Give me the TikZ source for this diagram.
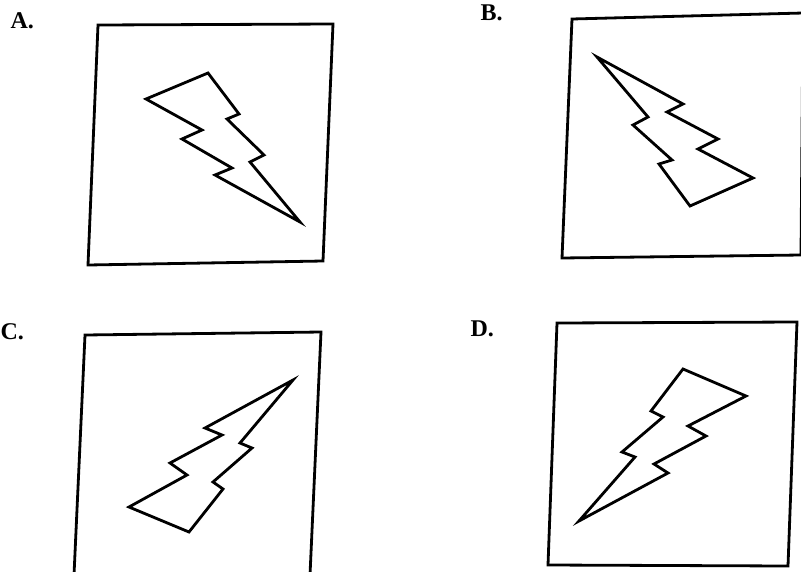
\documentclass[tikz,border=0pt]{standalone}
\usepackage{fontspec}
\setmainfont{Liberation Serif}
\usepackage{tikz}
\usetikzlibrary{positioning}

\begin{document}
\begin{tikzpicture}[
  x=1pt, y=-1pt,
  frame/.style = {draw, line width=2.8pt, line join=miter},
  bolt/.style  = {draw, line width=2.8pt, line join=miter},
  tag/.style   = {font=\fontsize{24}{26}\selectfont\bfseries, anchor=west}
]
\useasboundingbox (0,0) rectangle (801,571);

% Panel A
\node[tag] (labA) at (7,21) {A.};
\draw[frame] (98,25) -- (333,24) -- (323,261) -- (88,265) -- cycle;
\draw[bolt] (146,99) -- (208,73) -- (239,114) -- (227,119) -- (264,155)
  -- (250,162) -- (300,222) -- (215,175) -- (232,168) -- (182,139)
  -- (202,130) -- cycle;

% Panel B
\node[tag] (labB) at (477,13) {B.};
\draw[frame] (572,19) -- (803,13) -- (801,255) -- (562,258) -- cycle;
\draw[bolt] (597,57) -- (683,104) -- (667,112) -- (718,139) -- (698,149)
  -- (753,178) -- (690,206) -- (659,164) -- (672,160) -- (633,125)
  -- (648,117) -- cycle;

% Panel C
\node[tag] (labC) at (-3,332) {C.};
\draw[frame] (85,335) -- (321,332) -- (310,575) -- (74,575) -- cycle;
\draw[bolt] (293,380) -- (240,443) -- (252,448) -- (213,482) -- (223,489)
  -- (189,532) -- (129,507) -- (187,475) -- (170,463) -- (222,435)
  -- (205,428) -- cycle;

% Panel D
\node[tag] (labD) at (467,329) {D.};
\draw[frame] (557,323) -- (797,322) -- (788,566) -- (548,565) -- cycle;
\draw[bolt] (683,369) -- (746,396) -- (688,426) -- (706,436) -- (654,464)
  -- (668,473) -- (579,521) -- (635,457) -- (622,452) -- (663,417)
  -- (651,411) -- cycle;

\end{tikzpicture}
\end{document}
